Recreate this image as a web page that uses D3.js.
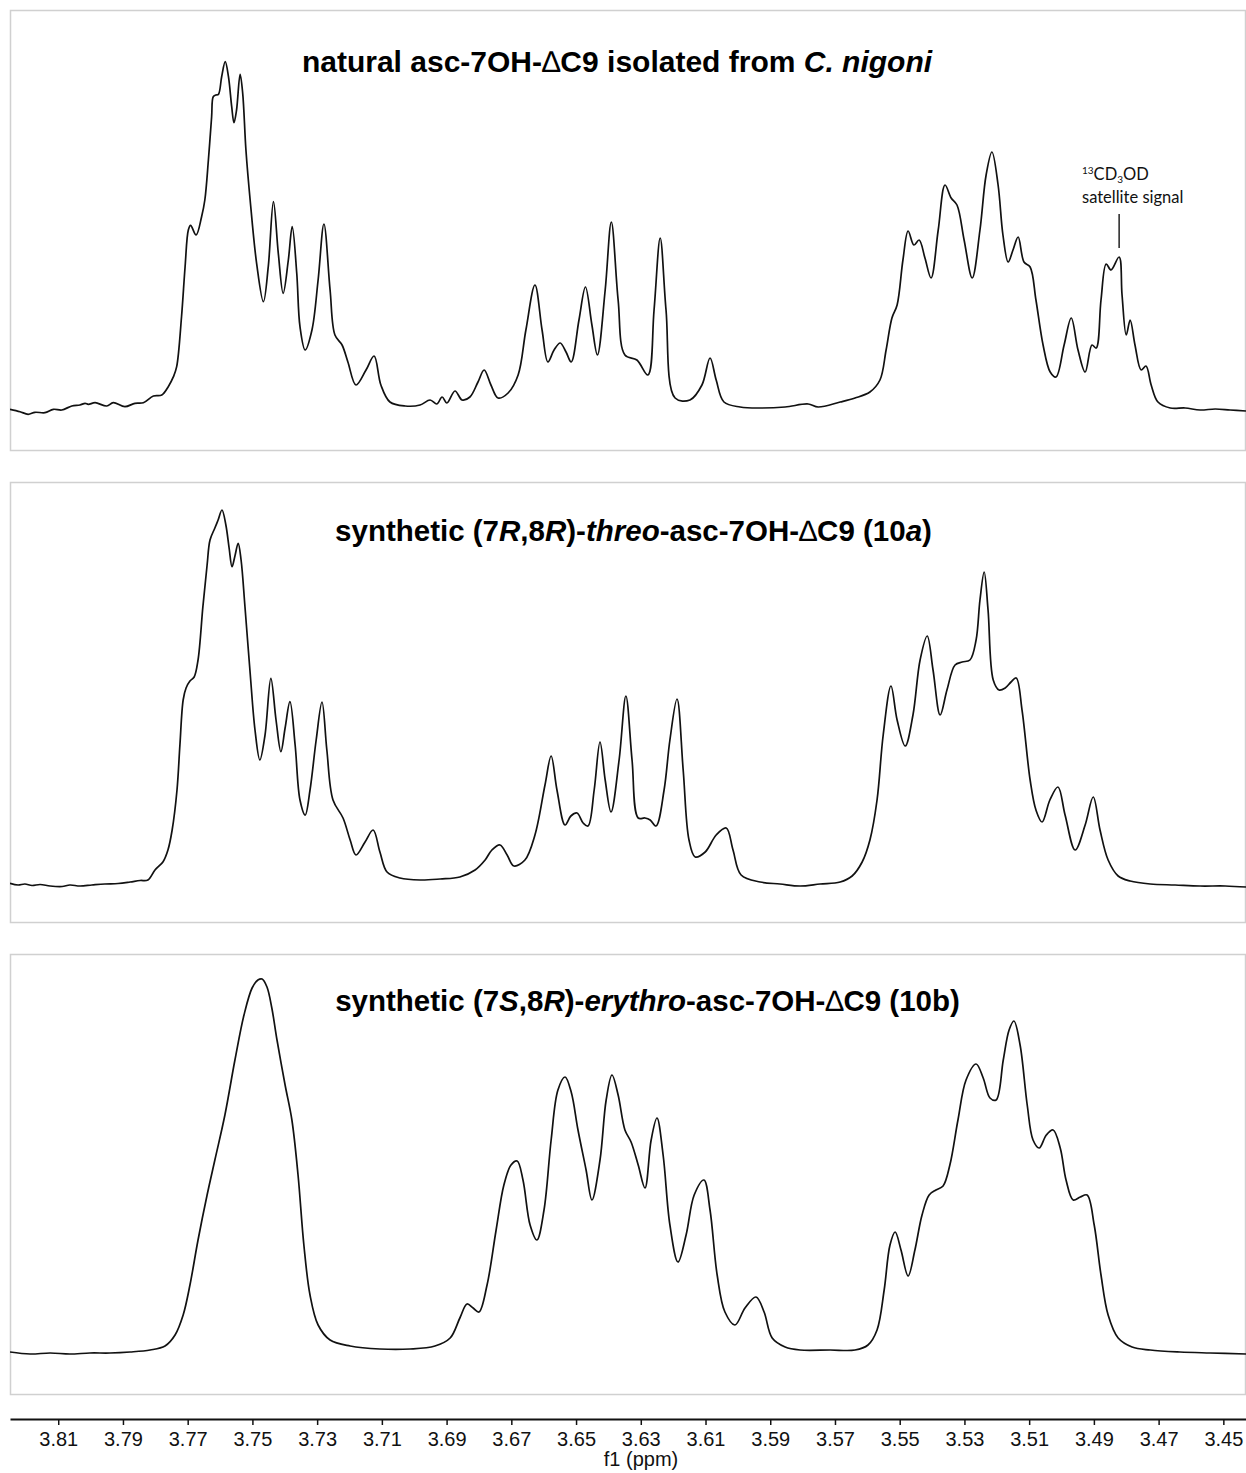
<!DOCTYPE html>
<html>
<head>
<meta charset="utf-8">
<script src="https://cdn.jsdelivr.net/npm/d3@7"></script>
<style>
  body { margin: 0; background: #fff; }
  svg { display: block; }
</style>
</head>
<body>
<svg id="chart" width="1246" height="1473"></svg>
<script>
// Chemical shift ticks (ppm)
const tickValues = [3.81, 3.79, 3.77, 3.75, 3.73, 3.71, 3.69, 3.67, 3.65, 3.63,
                    3.61, 3.59, 3.57, 3.55, 3.53, 3.51, 3.49, 3.47, 3.45];

// Spectrum 1: natural asc-7OH-dC9 — [ppm, intensity]
const natural = [
  [3.8249, 0.7], [3.8218, -1.7], [3.8193, -4.3], [3.8172, -2.3], [3.8141, -2.7],
  [3.8115, 0.7], [3.8089, 0], [3.8058, 4], [3.8033, 5], [3.8017, 6.7],
  [3.8007, 5.7], [3.7986, 7.3], [3.7950, 4], [3.7930, 7.3], [3.7894, 3.3],
  [3.7863, 6.7], [3.7837, 7.3], [3.7806, 14], [3.7780, 15], [3.7760, 23.3],
  [3.7744, 33.3], [3.7734, 43.3], [3.7719, 93.3], [3.7708, 143.3], [3.7698, 180],
  [3.7691, 184.7], [3.7674, 175], [3.7657, 193.3], [3.7647, 210], [3.7636, 250],
  [3.7626, 293.3], [3.7621, 313.3], [3.7613, 315], [3.7605, 315.7], [3.7595, 333.3],
  [3.7584, 348.3], [3.7574, 333.3], [3.7564, 303.3], [3.7557, 287.3], [3.7549, 300],
  [3.7538, 335.7], [3.7530, 316.7], [3.7520, 260], [3.7507, 210], [3.7487, 146.7],
  [3.7466, 108.3], [3.7451, 143.3], [3.7435, 208.3], [3.7420, 156.7], [3.7405, 116.7],
  [3.7389, 150], [3.7377, 183.3], [3.7363, 136.7], [3.7353, 83.3], [3.7337, 60],
  [3.7316, 80], [3.7297, 130], [3.7279, 186], [3.7260, 120], [3.7245, 75],
  [3.7223, 65], [3.7205, 48], [3.7180, 25], [3.7149, 40], [3.7124, 54],
  [3.7103, 25], [3.7075, 8], [3.7028, 4], [3.6982, 5], [3.6951, 10],
  [3.6930, 6], [3.6914, 13], [3.6899, 7], [3.6874, 19], [3.6852, 10],
  [3.6828, 13], [3.6803, 28], [3.6784, 40], [3.6763, 25], [3.6741, 12],
  [3.6710, 17], [3.6679, 35], [3.6655, 80], [3.6627, 125], [3.6605, 80],
  [3.6587, 48], [3.6568, 60], [3.6549, 67], [3.6531, 58], [3.6515, 48],
  [3.6491, 90], [3.6471, 123], [3.6451, 85], [3.6434, 55], [3.6410, 120],
  [3.6391, 188], [3.6370, 110], [3.6349, 55], [3.6312, 50], [3.6278, 35],
  [3.6259, 100], [3.6240, 172], [3.6222, 100], [3.6194, 12], [3.6148, 10],
  [3.6111, 25], [3.6086, 52], [3.6067, 30], [3.6043, 8], [3.5993, 3],
  [3.5931, 2], [3.5854, 3], [3.5783, 6], [3.5752, 3], [3.5684, 8],
  [3.5638, 12], [3.5592, 18], [3.5561, 30], [3.5542, 60], [3.5524, 92],
  [3.5508, 105], [3.5490, 150], [3.5474, 179], [3.5456, 165], [3.5440, 170],
  [3.5422, 152], [3.5403, 132], [3.5381, 180], [3.5360, 225], [3.5341, 212],
  [3.5323, 205], [3.5301, 170], [3.5276, 132], [3.5252, 180], [3.5233, 235],
  [3.5215, 258], [3.5196, 225], [3.5181, 175], [3.5165, 148], [3.5150, 160],
  [3.5134, 173], [3.5116, 148], [3.5097, 143], [3.5079, 110], [3.5057, 65],
  [3.5035, 38], [3.5017, 33], [3.4992, 65], [3.4970, 92], [3.4949, 60],
  [3.4927, 38], [3.4906, 65], [3.4893, 62], [3.4878, 110], [3.4862, 146],
  [3.4847, 140], [3.4822, 153], [3.4813, 115], [3.4800, 75], [3.4788, 90],
  [3.4773, 65], [3.4754, 40], [3.4739, 44], [3.4723, 25], [3.4702, 8],
  [3.4664, 2], [3.4618, 2], [3.4572, 0], [3.4525, 1], [3.4479, 0], [3.4430, -1]
];

// Spectrum 2: synthetic (7R,8R)-threo isomer — [ppm, intensity]
const threo = [
  [3.8249, 1.7], [3.8224, 0], [3.8203, 1], [3.8181, -0.5], [3.8156, 0.5],
  [3.8125, -1], [3.8088, -1.5], [3.8064, 0], [3.8033, -1], [3.7996, 0],
  [3.7956, 1], [3.7915, 1.5], [3.7878, 3], [3.7847, 4.5], [3.7823, 5],
  [3.7801, 15], [3.7776, 23.3], [3.7761, 35], [3.7748, 55], [3.7733, 95],
  [3.7724, 140], [3.7714, 185], [3.7705, 197], [3.7693, 204], [3.7680, 208],
  [3.7668, 225], [3.7653, 278.3], [3.7640, 320], [3.7631, 345], [3.7616, 357],
  [3.7606, 365], [3.7594, 375], [3.7582, 360], [3.7572, 337], [3.7563, 318.3],
  [3.7554, 329], [3.7544, 341.7], [3.7535, 325], [3.7523, 278.3], [3.7507, 212],
  [3.7492, 155], [3.7477, 125], [3.7461, 150], [3.7443, 206.7], [3.7427, 165],
  [3.7412, 133.3], [3.7399, 157], [3.7384, 183.3], [3.7368, 140], [3.7353, 85],
  [3.7337, 70], [3.7322, 95], [3.7303, 145], [3.7285, 183], [3.7270, 135],
  [3.7251, 85], [3.7220, 67], [3.7198, 45], [3.7180, 30], [3.7152, 43],
  [3.7127, 55], [3.7106, 33], [3.7084, 13], [3.7044, 7], [3.6982, 5],
  [3.6920, 6], [3.6859, 8], [3.6812, 15], [3.6781, 25], [3.6760, 35],
  [3.6735, 40], [3.6713, 30], [3.6692, 19], [3.6658, 25], [3.6627, 50],
  [3.6596, 100], [3.6577, 129], [3.6559, 95], [3.6534, 60], [3.6516, 69],
  [3.6497, 72], [3.6478, 62], [3.6463, 59], [3.6444, 95], [3.6426, 143],
  [3.6410, 105], [3.6392, 73], [3.6367, 125], [3.6346, 189], [3.6327, 125],
  [3.6308, 67], [3.6287, 67], [3.6271, 65], [3.6253, 59], [3.6228, 95],
  [3.6210, 145], [3.6188, 186], [3.6169, 115], [3.6151, 45], [3.6132, 28],
  [3.6101, 33], [3.6067, 50], [3.6036, 57], [3.6015, 35], [3.5990, 10],
  [3.5931, 3], [3.5870, 1], [3.5808, -1], [3.5746, 1], [3.5684, 3],
  [3.5647, 9], [3.5616, 23], [3.5592, 45], [3.5570, 85], [3.5551, 150],
  [3.5527, 199], [3.5508, 165], [3.5483, 139], [3.5459, 170], [3.5437, 225],
  [3.5415, 249], [3.5397, 215], [3.5375, 170], [3.5354, 195], [3.5329, 220],
  [3.5307, 223], [3.5283, 225], [3.5264, 245], [3.5252, 285], [3.5239, 313],
  [3.5227, 275], [3.5211, 205], [3.5193, 195], [3.5174, 197], [3.5156, 203],
  [3.5140, 207], [3.5122, 175], [3.5097, 105], [3.5079, 75], [3.5060, 63],
  [3.5036, 85], [3.5011, 98], [3.4989, 70], [3.4958, 35], [3.4927, 60],
  [3.4902, 88], [3.4881, 55], [3.4856, 25], [3.4825, 9], [3.4788, 4],
  [3.4726, 1], [3.4649, 0], [3.4572, -1], [3.4494, -1], [3.4430, -2]
];

// Spectrum 3: synthetic (7S,8R)-erythro isomer — [ppm, intensity]
const erythro = [
  [3.8249, 1], [3.8187, -1], [3.8125, 0], [3.8064, -1], [3.8002, 0],
  [3.7940, 0], [3.7878, 1], [3.7816, 3], [3.7770, 7], [3.7739, 18],
  [3.7714, 38], [3.7693, 68], [3.7668, 113], [3.7640, 158], [3.7616, 193],
  [3.7585, 238], [3.7554, 293], [3.7526, 338], [3.7501, 365], [3.7483, 373],
  [3.7470, 374], [3.7455, 366], [3.7440, 345], [3.7424, 313], [3.7399, 268],
  [3.7378, 233], [3.7359, 178], [3.7341, 108], [3.7322, 58], [3.7297, 28],
  [3.7260, 13], [3.7198, 7], [3.7106, 4], [3.7013, 4], [3.6936, 7],
  [3.6889, 15], [3.6859, 35], [3.6837, 49], [3.6818, 45], [3.6800, 41],
  [3.6775, 68], [3.6747, 123], [3.6723, 168], [3.6701, 188], [3.6682, 192],
  [3.6664, 173], [3.6642, 128], [3.6621, 113], [3.6599, 143], [3.6577, 213],
  [3.6556, 263], [3.6534, 276], [3.6515, 261], [3.6494, 223], [3.6469, 183],
  [3.6451, 153], [3.6426, 193], [3.6407, 253], [3.6389, 278], [3.6370, 258],
  [3.6349, 223], [3.6330, 211], [3.6308, 188], [3.6287, 165], [3.6268, 213],
  [3.6250, 235], [3.6231, 198], [3.6210, 128], [3.6185, 91], [3.6160, 118],
  [3.6135, 158], [3.6105, 173], [3.6086, 143], [3.6064, 78], [3.6040, 41],
  [3.6009, 28], [3.5978, 45], [3.5944, 56], [3.5919, 41], [3.5894, 15],
  [3.5854, 6], [3.5808, 3], [3.5715, 3], [3.5638, 3], [3.5598, 8],
  [3.5570, 23], [3.5548, 63], [3.5530, 108], [3.5514, 121], [3.5496, 103],
  [3.5474, 77], [3.5453, 103], [3.5431, 138], [3.5409, 158], [3.5388, 163],
  [3.5366, 167], [3.5345, 188], [3.5320, 233], [3.5295, 273], [3.5264, 289],
  [3.5242, 275], [3.5221, 255], [3.5202, 253], [3.5180, 293], [3.5162, 323],
  [3.5147, 332], [3.5128, 308], [3.5106, 248], [3.5088, 213], [3.5069, 205],
  [3.5047, 218], [3.5026, 223], [3.5004, 205], [3.4986, 173], [3.4964, 153],
  [3.4942, 156], [3.4921, 158], [3.4899, 128], [3.4878, 78], [3.4856, 38],
  [3.4825, 15], [3.4782, 6], [3.4726, 3], [3.4634, 1], [3.4541, 0], [3.4430, -1]
];

// Position of the 13CD3OD satellite in spectrum 1
const satellitePpm = 3.4822;

const svg = d3.select("#chart");
const left = 10, right = 1246;

const x = d3.scaleLinear().domain([3.8249, 3.4430]).range([left, right]);

const panels = [
  {
    data: natural, top: 10, bottom: 450, domain: [-40, 400],
    titleX: 617, titleY: 72, titleSize: 30,
    title: [["natural asc-7OH-", ""], ["\u2206", "d"], ["C9 isolated from ", ""], ["C. nigoni", "i"]]
  },
  {
    data: threo, top: 482, bottom: 922, domain: [-37, 403],
    titleX: 633.5, titleY: 541, titleSize: 29.5,
    title: [["synthetic (7", ""], ["R", "i"], [",8", ""], ["R", "i"], [")-", ""], ["threo", "i"],
            ["-asc-7OH-", ""], ["\u2206", "d"], ["C9 (10", ""], ["a", "i"], [")", ""]]
  },
  {
    data: erythro, top: 954, bottom: 1394, domain: [-41, 399],
    titleX: 647.5, titleY: 1011, titleSize: 29.5,
    title: [["synthetic (7", ""], ["S", "i"], [",8", ""], ["R", "i"], [")-", ""], ["erythro", "i"],
            ["-asc-7OH-", ""], ["\u2206", "d"], ["C9 (10b)", ""]]
  }
];

const defs = svg.append("defs");

panels.forEach((p, i) => {
  const y = d3.scaleLinear().domain(p.domain).range([p.bottom, p.top]);
  p.y = y;

  defs.append("clipPath").attr("id", "clip" + i)
    .append("rect")
    .attr("x", left).attr("y", p.top)
    .attr("width", right - left).attr("height", p.bottom - p.top);

  const g = svg.append("g");

  // panel frame
  g.append("rect")
    .attr("x", left + 0.5).attr("y", p.top + 0.5)
    .attr("width", right - left - 1).attr("height", p.bottom - p.top)
    .attr("fill", "none")
    .attr("stroke", "#d0d0d0")
    .attr("stroke-width", 1.5);

  const line = d3.line()
    .x(d => x(d[0]))
    .y(d => y(d[1]))
    .curve(d3.curveCatmullRom.alpha(0.5));

  g.append("path")
    .datum(p.data)
    .attr("clip-path", "url(#clip" + i + ")")
    .attr("d", line)
    .attr("fill", "none")
    .attr("stroke", "#111")
    .attr("stroke-width", 1.7)
    .attr("stroke-linejoin", "round");

  const t = g.append("text")
    .attr("x", p.titleX).attr("y", p.titleY)
    .attr("text-anchor", "middle")
    .attr("font-family", "'Liberation Sans', Arial, sans-serif")
    .attr("font-size", p.titleSize)
    .attr("font-weight", "bold")
    .attr("fill", "#000");
  p.title.forEach(([s, style]) => {
    const ts = t.append("tspan").text(s);
    if (style === "i") ts.attr("font-style", "italic");
    if (style === "d") ts.attr("font-weight", "normal");
  });
});

// satellite annotation in spectrum 1
{
  const p = panels[0];
  const sx = x(satellitePpm);
  const peakY = p.y(153);
  svg.append("line")
    .attr("x1", sx).attr("x2", sx)
    .attr("y1", peakY - 43).attr("y2", peakY - 9)
    .attr("stroke", "#222").attr("stroke-width", 1.5);

  const annFont = "Lato, 'Open Sans', sans-serif";
  const l1 = svg.append("text")
    .attr("x", 1082).attr("y", 180)
    .attr("font-family", annFont)
    .attr("font-size", 16.5)
    .attr("fill", "#111");
  l1.append("tspan").text("13").attr("font-size", 10).attr("dy", -6);
  l1.append("tspan").text("CD").attr("dy", 6);
  l1.append("tspan").text("3").attr("font-size", 10).attr("dy", 3);
  l1.append("tspan").text("OD").attr("dy", -3);

  svg.append("text")
    .attr("x", 1082).attr("y", 203)
    .attr("font-family", annFont)
    .attr("font-size", 16.5)
    .attr("fill", "#111")
    .text("satellite signal");
}

// bottom axis
const axis = d3.axisBottom(x)
  .tickValues(tickValues)
  .tickFormat(d3.format(".2f"))
  .tickSizeInner(6)
  .tickSizeOuter(0)
  .tickPadding(7);

const ax = svg.append("g")
  .attr("transform", "translate(0,1419)")
  .call(axis);

ax.select(".domain").attr("stroke", "#111").attr("stroke-width", 2);
ax.selectAll(".tick line").attr("stroke", "#111").attr("stroke-width", 1.5);
ax.selectAll(".tick text")
  .attr("font-family", "'Liberation Sans', Arial, sans-serif")
  .attr("font-size", 20)
  .attr("fill", "#111");

svg.append("text")
  .attr("x", 641).attr("y", 1466)
  .attr("text-anchor", "middle")
  .attr("font-family", "'Liberation Sans', Arial, sans-serif")
  .attr("font-size", 20)
  .attr("fill", "#111")
  .text("f1 (ppm)");
</script>
</body>
</html>
